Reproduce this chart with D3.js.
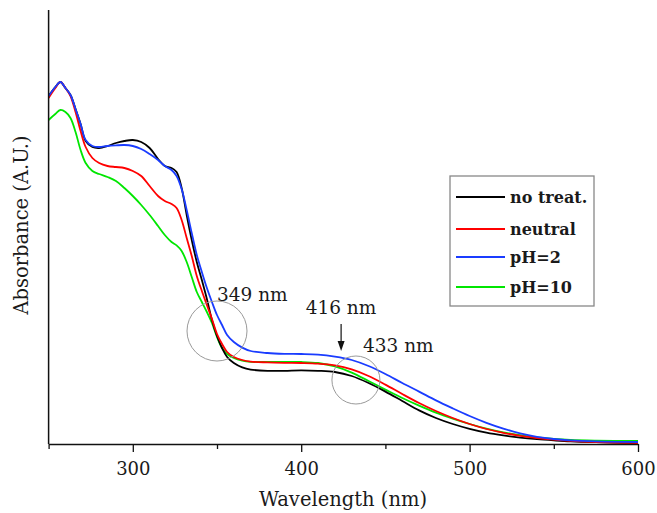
<!DOCTYPE html>
<html>
<head>
<meta charset="utf-8">
<script src="https://cdn.jsdelivr.net/npm/d3@7/dist/d3.min.js"></script>
<style>
  html, body { margin: 0; padding: 0; background: #fff; }
  svg { display: block; }
</style>
</head>
<body>
<svg id="chart" width="657" height="513"></svg>
<script>
// ---- data ----
const wavelengths = [250,254,257,260,263,266,269,272,276,280,285,290,295,300,305,310,315,319,323,326,329,332,335,338,341,344,347,350,353,356,360,365,370,380,390,400,410,420,430,440,450,460,470,480,490,500,510,520,530,540,550,560,575,600];

const noTreat = [1.740,1.785,1.810,1.780,1.745,1.675,1.600,1.515,1.485,1.480,1.490,1.505,1.515,1.520,1.510,1.480,1.425,1.390,1.380,1.360,1.280,1.145,1.020,0.910,0.820,0.725,0.620,0.540,0.480,0.435,0.405,0.383,0.372,0.366,0.366,0.368,0.366,0.360,0.340,0.305,0.262,0.215,0.168,0.130,0.100,0.076,0.057,0.043,0.032,0.024,0.018,0.013,0.009,0.005];

const neutral = [1.730,1.780,1.810,1.780,1.740,1.660,1.565,1.485,1.430,1.405,1.390,1.385,1.380,1.365,1.340,1.290,1.240,1.215,1.200,1.180,1.120,1.030,0.940,0.840,0.765,0.695,0.625,0.550,0.500,0.460,0.435,0.420,0.412,0.408,0.406,0.405,0.402,0.393,0.373,0.340,0.297,0.250,0.205,0.165,0.130,0.100,0.075,0.056,0.041,0.030,0.022,0.016,0.010,0.005];

const pH2 = [1.740,1.785,1.810,1.780,1.745,1.675,1.600,1.520,1.490,1.485,1.490,1.493,1.495,1.490,1.475,1.450,1.420,1.390,1.370,1.340,1.275,1.170,1.055,0.945,0.860,0.780,0.710,0.645,0.595,0.545,0.510,0.482,0.465,0.455,0.451,0.450,0.447,0.437,0.420,0.390,0.350,0.305,0.262,0.218,0.178,0.140,0.106,0.077,0.053,0.036,0.025,0.018,0.013,0.010];

const pH10 = [1.620,1.650,1.670,1.660,1.630,1.560,1.470,1.405,1.365,1.350,1.335,1.315,1.280,1.240,1.195,1.145,1.090,1.045,1.010,0.993,0.965,0.910,0.835,0.760,0.710,0.660,0.605,0.535,0.480,0.450,0.430,0.417,0.411,0.410,0.410,0.410,0.405,0.388,0.357,0.315,0.272,0.230,0.192,0.157,0.127,0.100,0.077,0.058,0.044,0.033,0.025,0.020,0.017,0.015];

const seriesNames = ["no treat.", "neutral", "pH=2", "pH=10"];
const seriesColors = ["#000000", "#ff0000", "#1a3cff", "#00e600"];
const xTickValues = [250, 300, 350, 400, 450, 500, 550, 600];
const xTickLabels = [300, 400, 500, 600];
const annotations = [
  { text: "349 nm", nm: 350, a: 0.565, r: 30 },
  { text: "433 nm", nm: 432.5, a: 0.32, r: 24 }
];
const arrowNm = 423.7;
const arrowLabel = "416 nm";

// ---- drawing ----
const svg = d3.select("#chart");
const FONT = "'DejaVu Serif', serif";
const x = d3.scaleLinear().domain([250, 600]).range([48.6, 638]);
const y = d3.scaleLinear().domain([0, 2.17]).range([444, 10]);

const allSeries = [noTreat, neutral, pH2, pH10];

const order = [3, 0, 1, 2];
const line = d3.line()
  .x((d, i) => x(wavelengths[i]))
  .y(d => y(d))
  .curve(d3.curveCatmullRom.alpha(0.5));

order.forEach(k => {
  svg.append("path")
    .datum(allSeries[k])
    .attr("d", line)
    .attr("fill", "none")
    .attr("stroke", seriesColors[k])
    .attr("stroke-width", 1.8)
    .attr("stroke-linejoin", "round");
});

// x axis
const xAxis = d3.axisBottom(x)
  .tickValues(xTickValues)
  .tickSize(8)
  .tickSizeOuter(0)
  .tickPadding(10)
  .tickFormat(d => xTickLabels.includes(d) ? String(d) : "");
const gx = svg.append("g").attr("transform", `translate(0,${y(0)})`).call(xAxis);
gx.select(".domain").attr("stroke", "#111").attr("stroke-width", 1.5);
gx.selectAll(".tick line")
  .attr("stroke", "#111").attr("stroke-width", 1.3)
  .attr("y2", d => xTickLabels.includes(d) ? 8 : 5);
gx.selectAll(".tick text").attr("font-family", FONT).attr("font-size", 18).attr("fill", "#1a1a1a");

// y axis (line only)
svg.append("line")
  .attr("x1", x(250)).attr("x2", x(250))
  .attr("y1", 10).attr("y2", y(0))
  .attr("stroke", "#111").attr("stroke-width", 1.5);

// axis titles
svg.append("text")
  .attr("x", 343).attr("y", 506)
  .attr("text-anchor", "middle")
  .attr("font-family", FONT).attr("font-size", 19.5).attr("fill", "#1a1a1a")
  .text("Wavelength (nm)");

svg.append("text")
  .attr("transform", "translate(28,225) rotate(-90)")
  .attr("text-anchor", "middle")
  .attr("font-family", FONT).attr("font-size", 19.5).attr("fill", "#1a1a1a")
  .text("Absorbance (A.U.)");

// annotation circles
annotations.forEach(a => {
  svg.append("circle")
    .attr("cx", x(a.nm)).attr("cy", y(a.a)).attr("r", a.r)
    .attr("fill", "none").attr("stroke", "#9a9a9a").attr("stroke-width", 1);
});
svg.append("text").attr("x", 217).attr("y", 301)
  .attr("font-family", FONT).attr("font-size", 18.5).attr("fill", "#1a1a1a")
  .text(annotations[0].text);
svg.append("text").attr("x", 363).attr("y", 352)
  .attr("font-family", FONT).attr("font-size", 18.5).attr("fill", "#1a1a1a")
  .text(annotations[1].text);
svg.append("text").attr("x", 341).attr("y", 314)
  .attr("text-anchor", "middle")
  .attr("font-family", FONT).attr("font-size", 18.5).attr("fill", "#1a1a1a")
  .text(arrowLabel);

// arrow
const ax = x(arrowNm);
svg.append("line").attr("x1", ax).attr("x2", ax).attr("y1", 324).attr("y2", 343)
  .attr("stroke", "#111").attr("stroke-width", 1.2);
svg.append("path")
  .attr("d", `M${ax - 3.5},341 L${ax + 3.5},341 L${ax},351 Z`)
  .attr("fill", "#111");

// legend
const legend = svg.append("g");
legend.append("rect")
  .attr("x", 450).attr("y", 176).attr("width", 144).attr("height", 130)
  .attr("fill", "#fff").attr("stroke", "#888").attr("stroke-width", 1.3);
const rowY = [197, 229, 257, 287];
seriesNames.forEach((name, i) => {
  legend.append("line")
    .attr("x1", 456).attr("x2", 505).attr("y1", rowY[i]).attr("y2", rowY[i])
    .attr("stroke", seriesColors[i]).attr("stroke-width", 1.8);
  legend.append("text")
    .attr("x", 510).attr("y", rowY[i] + 6)
    .attr("font-family", FONT).attr("font-size", 16).attr("font-weight", "bold")
    .attr("fill", "#1a1a1a")
    .text(name);
});
</script>
</body>
</html>
